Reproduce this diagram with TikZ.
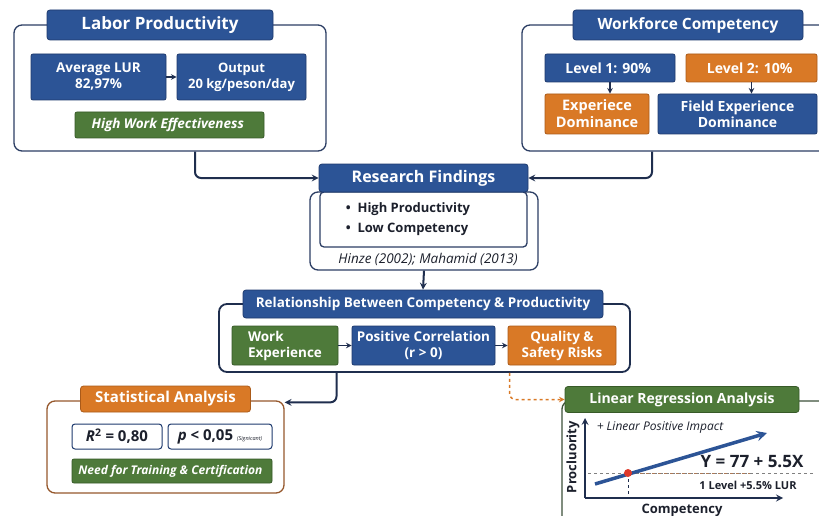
\documentclass[tikz,border=0pt]{standalone}
\usepackage{fontspec}
\setmainfont{Open Sans}
\usetikzlibrary{shapes}
\definecolor{navy}{RGB}{31, 46, 78}
\definecolor{txt}{RGB}{28, 32, 44}
\definecolor{blu}{RGB}{44, 84, 150}
\definecolor{bludk}{RGB}{30, 58, 110}
\definecolor{org}{RGB}{217, 121, 38}
\definecolor{orgdk}{RGB}{170, 90, 25}
\definecolor{grn}{RGB}{78, 122, 58}
\definecolor{grndk}{RGB}{55, 90, 40}
\definecolor{frm}{RGB}{44, 62, 100}
\definecolor{brn}{RGB}{150, 88, 45}
\definecolor{olv}{RGB}{60, 80, 58}
\definecolor{dot}{RGB}{224, 58, 42}
\newcommand*{\fsz}[1]{\fontsize{#1}{#1}\selectfont}

\begin{document}
\begin{tikzpicture}[
   x=1pt, y=-1pt,
   frame/.style={rectangle, draw=frm, fill=white, line width=1.3, rounded corners=8,
                 inner sep=0},
   head/.style={rectangle, draw=bludk, fill=blu, line width=0.8, rounded corners=3,
                text=white, inner sep=2, font=\bfseries\fsz{15.5}},
   bluebox/.style={rectangle, draw=bludk, fill=blu, line width=0.8, rounded corners=2,
                   text=white, align=center, inner sep=2,
                   font=\bfseries\fontsize{13.5}{16}\selectfont},
   orgbox/.style={bluebox, draw=orgdk, fill=org},
   grnbox/.style={bluebox, draw=grndk, fill=grn},
   valbox/.style={rectangle, draw=bludk, fill=white, line width=1, rounded corners=3,
                  text=txt, inner sep=2, font=\bfseries\fsz{15}},
   link/.style={->, >=stealth, color=navy, line width=2, rounded corners=6}
  ]

  \useasboundingbox (0, 0) rectangle (819, 516);

  % Labor productivity block
  \node (A) at (170, 88) [frame, minimum width=312, minimum height=126] {};
  \node (B) at (160, 25) [head, minimum width=226, minimum height=30,
                          font=\bfseries\fsz{17}] { Labor Productivity };
  \node (C) at (98.5, 77) [bluebox, minimum width=135, minimum height=46] { Average LUR\\82,97\% };
  \node (D) at (241.5, 77) [bluebox, minimum width=129, minimum height=46,
                            font=\bfseries\fontsize{13}{16}\selectfont] { Output\\20 kg/peson/day };
  \node (E) at (169.5, 125) [grnbox, minimum width=189, minimum height=26,
                             font=\bfseries\itshape\fsz{13.5}] { High Work Effectiveness };

  % Workforce competency block
  \node (F) at (686, 88) [frame, minimum width=328, minimum height=126] {};
  \node (G) at (688, 25) [head, minimum width=230, minimum height=30] { Workforce Competency };
  \node (H) at (610, 68) [bluebox, minimum width=130, minimum height=28,
                          font=\bfseries\fsz{14}] { Level 1: 90\% };
  \node (I) at (751.5, 68) [orgbox, minimum width=131, minimum height=28,
                            font=\bfseries\fsz{14}] { Level 2: 10\% };
  \node (J) at (597, 114) [orgbox, minimum width=104, minimum height=40,
                           font=\bfseries\fontsize{14.5}{17}\selectfont] { Experiece\\Dominance };
  \node (K) at (737.5, 114) [bluebox, minimum width=159, minimum height=40,
                             font=\bfseries\fontsize{14}{16}\selectfont] { Field Experience\\Dominance };

  % Research findings
  \node (L) at (424, 231) [frame, minimum width=228, minimum height=78] {};
  \node (M) at (423.5, 219.5) [frame, rounded corners=4, minimum width=207, minimum height=55] {};
  \node (N) at (423.5, 178) [head, minimum width=209, minimum height=28,
                             font=\bfseries\fsz{16}] { Research Findings };
  \node (O) at (408, 219) [align=left, text=txt, font=\bfseries\fontsize{13}{20}\selectfont]
        { \textbullet\ \ High Productivity\\\textbullet\ \ Low Competency };
  \node (P) at (428, 259) [text=txt, font=\itshape\fsz{13.5}] { Hinze (2002); Mahamid (2013) };

  % Relationship block
  \node (Q) at (424.5, 338) [frame, line width=1.8, draw=navy, minimum width=411, minimum height=68] {};
  \node (R) at (423, 304) [head, minimum width=360, minimum height=28,
                           font=\bfseries\fsz{13.5}] { Relationship Between Competency \& Productivity };
  \node (S) at (285, 345.5) [grnbox, align=left, minimum width=106, minimum height=39] { Work\\Experience };
  \node (T) at (423.5, 345.5) [bluebox, minimum width=143, minimum height=39] { Positive Correlation\\(r > 0) };
  \node (U) at (562, 345.5) [orgbox, minimum width=108, minimum height=39] { Quality \&\\Safety Risks };

  % Statistical analysis
  \node (V) at (165.5, 447) [frame, draw=brn, minimum width=237, minimum height=92] {};
  \node (W) at (165.5, 399) [head, draw=orgdk, fill=org, minimum width=170, minimum height=26,
                             font=\bfseries\fsz{15}] { Statistical Analysis };
  \node (X) at (117, 436.5) [valbox, minimum width=90, minimum height=25]
        { {\itshape R}\textsuperscript{2} = 0,80 };
  \node (Y) at (220, 436.5) [valbox, minimum width=104, minimum height=25]
        { {\itshape p} < 0,05 {\mdseries\itshape\fsz{5.5}(Signicant)} };
  \node (Z) at (172, 471) [grnbox, minimum width=200, minimum height=24,
                           font=\bfseries\itshape\fsz{12}] { Need for Training \& Certification };

  % Linear regression
  \node (AA) at (706, 470.5) [frame, draw=olv, minimum width=288, minimum height=139] {};
  \node (AB) at (682, 399.5) [head, draw=grndk, fill=grn, minimum width=234, minimum height=26,
                              font=\bfseries\fsz{14}] { Linear Regression Analysis };

  \coordinate (AC) at (585, 498);
  \draw[dashed, gray, line width=1] (588, 473) -- (815, 473);
  \draw[dashed, brn!80, line width=1] (628, 473) -- (750, 473);
  \draw[dashed, navy, line width=1] (628, 473) -- (AC -| 628, 498);
  \draw[->, >=stealth, navy, line width=2] (AC) -- (585, 418);
  \draw[->, >=stealth, navy, line width=2] (AC) -- (783, 498);
  \draw[->, >=stealth, blu, line width=3.5] (595, 484) -- (767, 433);
  \fill[dot] (628, 473) circle (4pt);

  \node (AD) at (682, 510) [text=txt, font=\bfseries\fsz{13}] { Competency };
  \node (AE) at (573, 457) [rotate=90, text=txt, font=\bfseries\fsz{13}] { Procluority };
  \node (AF) at (752, 462) [text=txt, font=\bfseries\fsz{17}] { Y = 77 + 5.5X };
  \node (AG) at (748, 485) [text=txt, font=\bfseries\fsz{11}] { 1 Level +5.5\% LUR };
  \node (AH) at (660, 428) [text=txt, font=\itshape\fsz{12}] { + Linear Positive Impact };

  % short arrows inside the blocks
  \foreach \B/\E in {C/D, S/T, T/U} {
    \draw[->, >=stealth, color=navy, line width=1.5] (\B) -- (\E);
  }
  \draw[->, >=stealth, color=navy, line width=1.5] (H) -- (H |- J.north);
  \draw[->, >=stealth, color=navy, line width=1.5] (I) -- (I |- K.north);

  % links between the blocks
  \draw[link] ([xshift=25pt]A.south) |- (N.west);
  \draw[link] ([xshift=-34pt]F.south) |- (N.east);
  \draw[link] (L.south) -- (R.north);
  \draw[link] ([xshift=-88pt]Q.south) |- ([yshift=-2pt]V.north east);
  \draw[link, dashed, color=org, line width=1.5] ([xshift=85pt]Q.south) |- (AB.west);

\end{tikzpicture}
\end{document}
